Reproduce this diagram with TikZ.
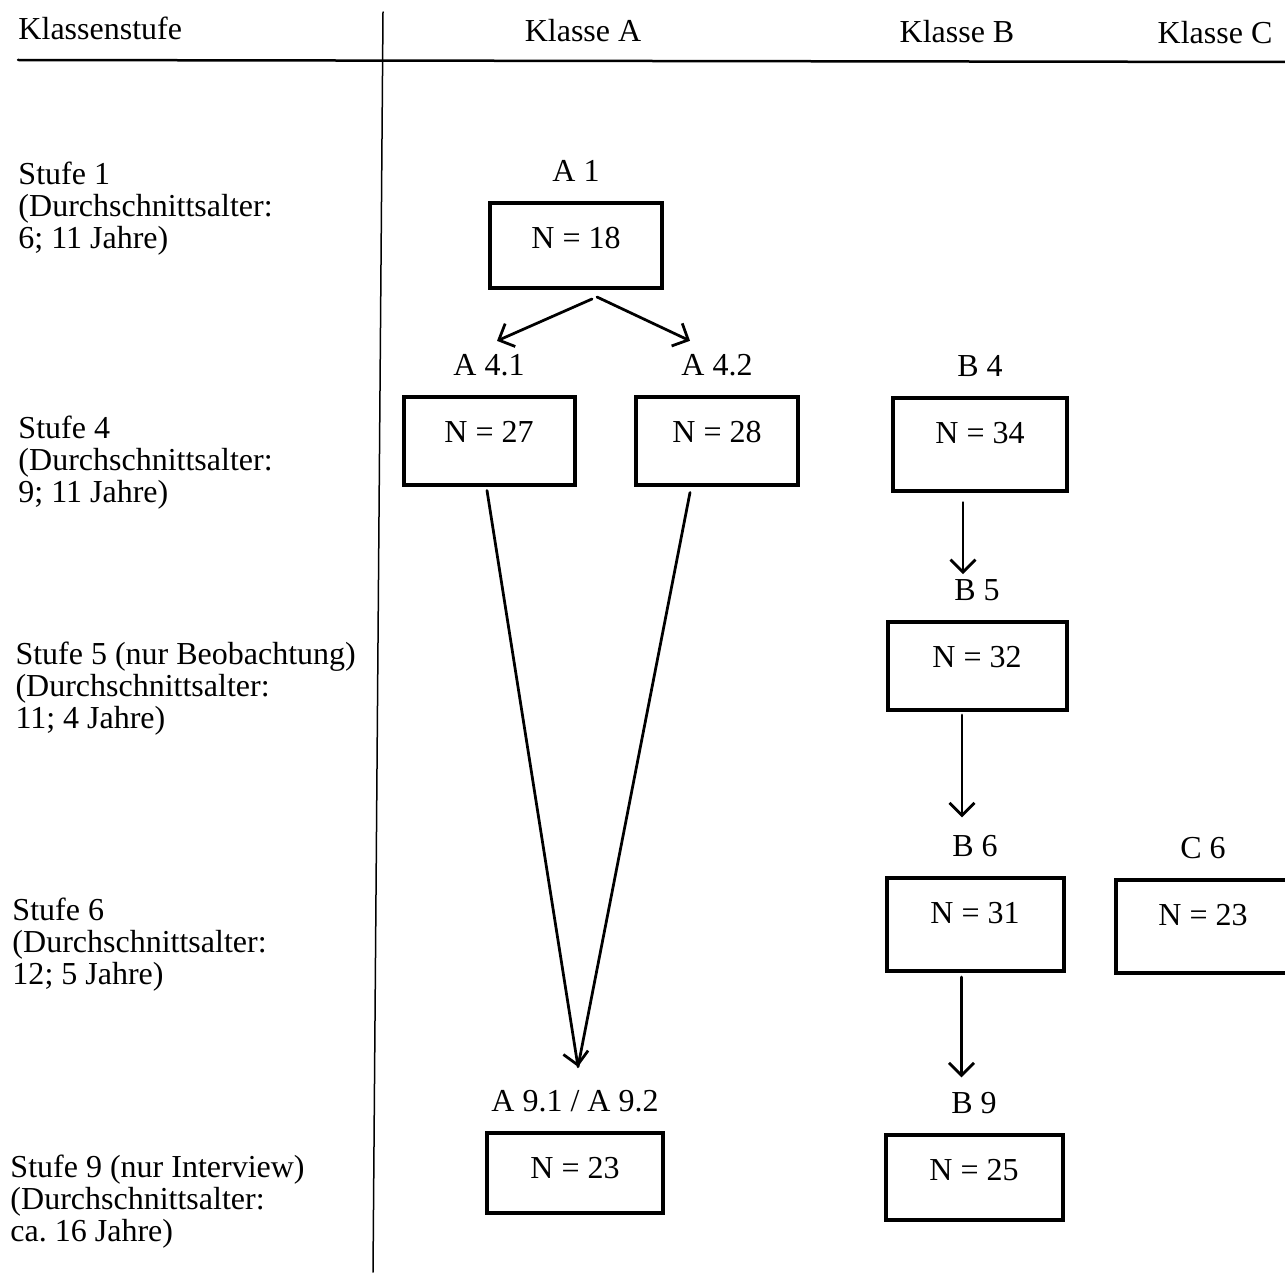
\documentclass[tikz,border=0pt]{standalone}
\usepackage{fontspec}
\setmainfont{Liberation Serif}
\usetikzlibrary{arrows.meta,positioning}
\tikzset{
	every node/.style={font=\fontsize{12.8}{12.8}\selectfont},
	gruppe/.style={draw, line width=1.6pt, inner sep=0pt, anchor=base, text height=18pt, text depth=17pt},
	kennung/.style={inner sep=0pt, text depth=0pt},
	stufe/.style={align=left, inner sep=0pt, anchor=base west}
}

\begin{document}
\begin{tikzpicture}[x=0.4pt, y=-0.4pt, line cap=round,
	pfeil/.style={-{Straight Barb[length=5pt, width=10pt]}, line width=1.1pt}]
	\useasboundingbox (0,0) rectangle (1285,1272);

	% Kopfzeile und Trennlinien
	\node[kennung, anchor=base west] (kopf) at (18,40) {Klassenstufe};
	\node[kennung, anchor=base] (ka) at (583,42) {Klasse A};
	\node[kennung, anchor=base] (kb) at (957,43) {Klasse B};
	\node[kennung, anchor=base] (kc) at (1215,44) {Klasse C};
	\draw[line width=1pt] (18,60) -- (1285,62);
	\draw[line width=0.6pt] (383,12) -- (373,1272);

	% Klassenstufen (base = letzte Zeile)
	\node[stufe] (s1) at (18,248) {Stufe 1\\(Durchschnittsalter:\\6; 11 Jahre)};
	\node[stufe] (s4) at (18,502) {Stufe 4\\(Durchschnittsalter:\\9; 11 Jahre)};
	\node[stufe] (s5) at (15,728) {Stufe 5 (nur Beobachtung)\\(Durchschnittsalter:\\11; 4 Jahre)};
	\node[stufe] (s6) at (12,984) {Stufe 6\\(Durchschnittsalter:\\12; 5 Jahre)};
	\node[stufe] (s9) at (10,1241) {Stufe 9 (nur Interview)\\(Durchschnittsalter:\\ca.\ 16 Jahre)};

	% Gruppen
	\node[gruppe, minimum width=69pt, text depth=16pt] (a1) at (576,248) {N = 18};
	\node[gruppe, minimum width=68.4pt] (a41) at (489,442) {N = 27};
	\node[gruppe, minimum width=64.8pt] (a42) at (717,442) {N = 28};
	\node[gruppe, minimum width=69.6pt, text depth=19pt] (b4) at (980,443) {N = 34};
	\node[gruppe, minimum width=71.6pt] (b5) at (977,667) {N = 32};
	\node[gruppe, minimum width=70.8pt, text depth=19pt] (b6) at (975,923) {N = 31};
	\node[gruppe, minimum width=69.6pt, text depth=19pt] (c6) at (1203,925) {N = 23};
	\node[gruppe, minimum width=70.4pt, text depth=14pt] (a9) at (575,1178) {N = 23};
	\node[gruppe, minimum width=70.8pt, text depth=16pt] (b9) at (974,1180) {N = 25};

	\node[kennung] (a1t) [above=7.6pt of a1] {A 1};
	\node[kennung] (a41t) [above=7.6pt of a41] {A 4.1};
	\node[kennung] (a42t) [above=7.6pt of a42] {A 4.2};
	\node[kennung] (b4t) [above=7.6pt of b4] {B 4};
	\node[kennung] (b5t) [above=7.6pt of b5] {B 5};
	\node[kennung] (b6t) [above=7.6pt of b6] {B 6};
	\node[kennung] (c6t) [above=7.6pt of c6] {C 6};
	\node[kennung] (a9t) [above=7.6pt of a9] {A 9.1 / A 9.2};
	\node[kennung] (b9t) [above=7.6pt of b9] {B 9};

	% Pfeile Klasse A
	\coordinate (spitze) at ([shift={(3,-23)}]a9t.north);
	\draw[pfeil] ([shift={(16,9)}]a1.south) -- ([shift={(8,-13)}]a41t.north);
	\draw[pfeil] ([shift={(21,7)}]a1.south) -- ([shift={(-27,-13)}]a42t.north);
	\draw[pfeil] ([shift={(-2,4)}]a41.south) -- (spitze);
	\draw[line width=1.1pt] ([shift={(-27,6)}]a42.south) -- (spitze);

	% Pfeile Klasse B
	\draw[pfeil, shorten <=4pt, shorten >=2pt] ([xshift=-6.8pt]b4.south) -- ([xshift=-6.8pt]b4.south |- b5t.north);
	\draw[pfeil, shorten <=1.4pt, shorten >=7pt] ([xshift=-6pt]b5.south) -- ([xshift=-6pt]b5.south |- b6t.north);
	\draw[pfeil, shorten <=1.8pt, shorten >=5.8pt] ([xshift=-5.4pt]b6.south) -- ([xshift=-5.4pt]b6.south |- b9t.north);
\end{tikzpicture}
\end{document}
